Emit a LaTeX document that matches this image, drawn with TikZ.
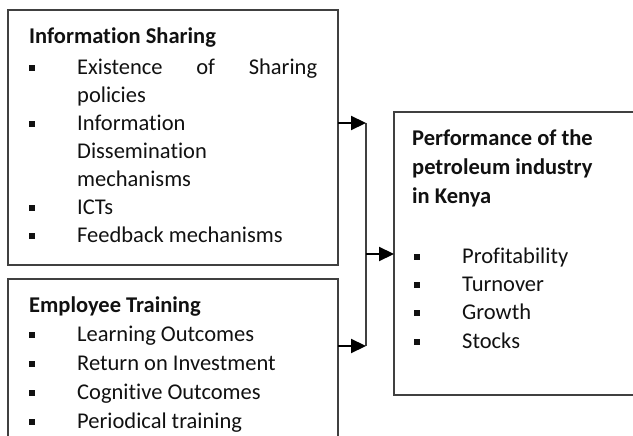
\documentclass[tikz,border=0pt]{standalone}
\usepackage{fontspec}
\setmainfont{Carlito}[Ligatures={NoCommon},RawFeature={-liga;-clig;-calt}]
\usetikzlibrary{arrows.meta}
\definecolor{boxgray}{HTML}{404040}
\definecolor{txt}{HTML}{111111}
\tikzset{
  frame/.style={draw=boxgray, line width=1.4pt},
  lbl/.style={anchor=mid west, inner sep=0pt, yshift=-4pt, text=txt, font=\fontsize{22.5}{27}\selectfont},
  ttl/.style={lbl, font=\fontsize{22.5}{27}\selectfont\bfseries},
  bul/.style={fill=txt, minimum size=6pt, inner sep=0pt, draw=none},
  link/.style={draw=boxgray, line width=1.4pt},
  arr/.style={line width=2.2pt, -{Triangle[length=15pt,width=14pt]}},
}
\begin{document}
\begin{tikzpicture}[x=1pt,y=-1pt]
\useasboundingbox (0,0) rectangle (633,436);
% boxes
\draw[frame] (8,10) rectangle (338,265);
\draw[frame] (8,279) rectangle (338,450);
\draw[frame] (394,112) rectangle (650,395);
% box 1 text
\node[ttl] (t1) at (29,37) {Information Sharing};
\node[bul] (b11) at (32,68) {};
\node[lbl, text width=240pt] (i11) at (77,68) {Existence\hfill of\hfill Sharing};
\node[lbl] (i11b) at (77,96) {policies};
\node[bul] (b12) at (32,124) {};
\node[lbl] (i12) at (77,124) {Information};
\node[lbl] (i12b) at (77,152) {Dissemination};
\node[lbl] (i12c) at (77,180) {mechanisms};
\node[bul] (b13) at (32,208) {};
\node[lbl] (i13) at (77,208) {ICTs};
\node[bul] (b14) at (32,236) {};
\node[lbl] (i14) at (77,236) {Feedback mechanisms};
% box 2 text
\node[ttl] (t2) at (29,306) {Employee Training};
\node[bul] (b21) at (32,335) {};
\node[lbl] (i21) at (77,335) {Learning Outcomes};
\node[bul] (b22) at (32,364) {};
\node[lbl] (i22) at (77,364) {Return on Investment};
\node[bul] (b23) at (32,393) {};
\node[lbl] (i23) at (77,393) {Cognitive Outcomes};
\node[bul] (b24) at (32,422) {};
\node[lbl] (i24) at (77,422) {Periodical training};
% box 3 text
\node[ttl] (t3a) at (412,139) {Performance of the};
\node[ttl] (t3b) at (412,168) {petroleum industry};
\node[ttl] (t3c) at (412,197) {in Kenya};
\node[bul] (b31) at (417,257) {};
\node[lbl] (i31) at (462,257) {Profitability};
\node[bul] (b32) at (417,285) {};
\node[lbl] (i32) at (462,285) {Turnover};
\node[bul] (b33) at (417,313) {};
\node[lbl] (i33) at (462,313) {Growth};
\node[bul] (b34) at (417,342) {};
\node[lbl] (i34) at (462,342) {Stocks};
% connectors
\coordinate (s1) at (338,123);
\coordinate (s2) at (338,346);
\coordinate (j1) at (366,123);
\coordinate (j2) at (366,346);
\coordinate (jm) at (366,254);
\coordinate (e3) at (394,254);
\draw[link] (j1) -- (j2);
\draw[arr] (s1) -- (j1);
\draw[arr] (s2) -- (j2);
\draw[arr] (jm) -- (e3);
\end{tikzpicture}
\end{document}
